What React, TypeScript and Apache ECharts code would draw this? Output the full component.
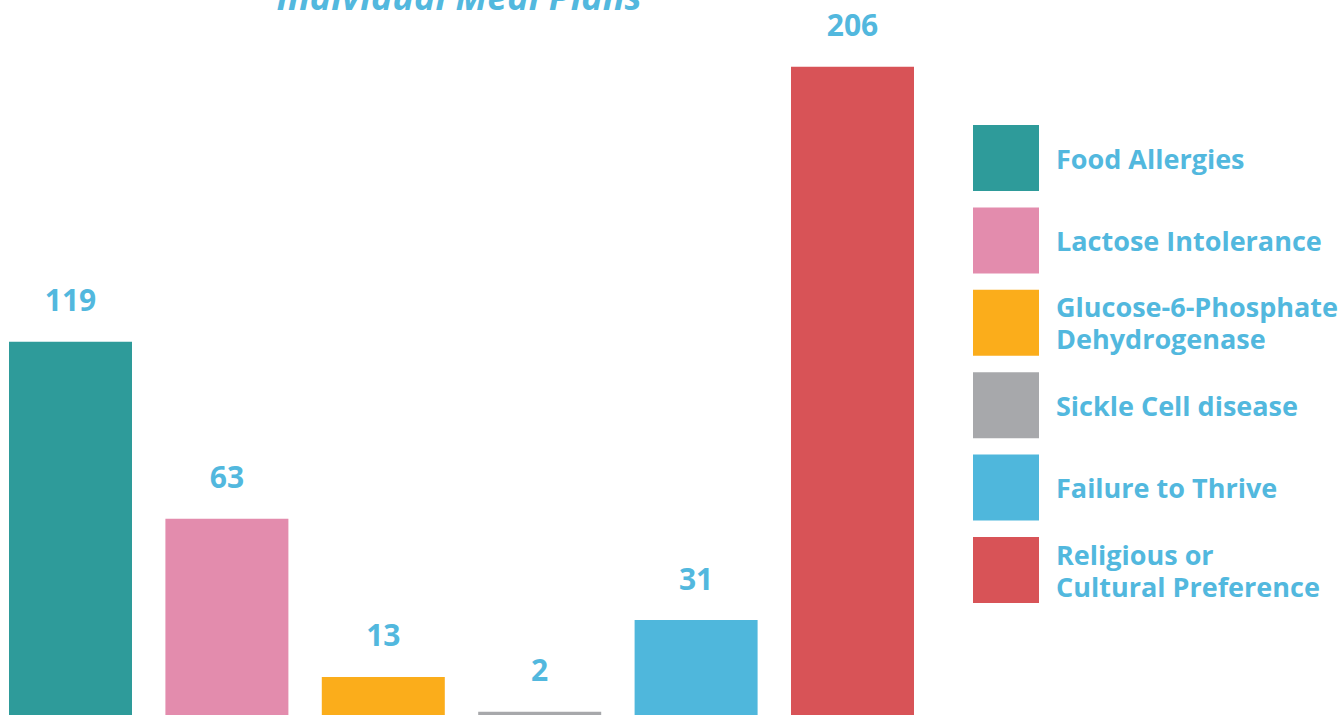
import React, { useEffect, useRef } from "react";
import * as echarts from "echarts";

const categories = [
  "Food Allergies",
  "Lactose Intolerance",
  "Glucose-6-Phosphate\nDehydrogenase",
  "Sickle Cell disease",
  "Failure to Thrive",
  "Religious or\nCultural Preference",
];
const values = [119, 63, 13, 2, 31, 206];
const colors = ["#2E9B9A", "#E38CAD", "#FBAD1B", "#A7A8AB", "#4FB7DC", "#D85357"];
const title = "Individual Meal Plans";

const TEXT_COLOR = "#52B8DE";
const FONT = "'Open Sans', 'Noto Sans', sans-serif";
const SHIFT = 8;

export default function App() {
  const ref = useRef<HTMLDivElement>(null);
  useEffect(() => {
    if (!ref.current) return;
    const chart = echarts.init(ref.current, undefined, { renderer: "svg" });
    const series = categories.map((name, i) => ({
      name,
      type: "bar",
      stack: "all",
      barWidth: 123,
      itemStyle: { color: colors[i] },
      data: values.map((v, j) => (j === i ? v : null)),
      label: {
        show: true,
        position: "top",
        distance: 27,
        color: TEXT_COLOR,
        fontFamily: FONT,
        fontWeight: "bold",
        fontSize: 30,
      },
    }));
    chart.setOption({
      animation: false,
      grid: { left: SHIFT - 7.7, width: 938.4, top: 22.6, bottom: 2, containLabel: false },
      xAxis: {
        type: "category",
        data: categories,
        show: false,
      },
      yAxis: { type: "value", min: 0, max: 220, show: false },
      legend: {
        orient: "vertical",
        left: SHIFT + 973,
        top: 125,
        padding: 0,
        itemWidth: 66,
        itemHeight: 66,
        itemGap: 16.4,
        icon: "rect",
        selectedMode: false,
        data: categories,
        textStyle: {
          color: TEXT_COLOR,
          fontFamily: FONT,
          fontWeight: "bold",
          fontSize: 27,
          lineHeight: 32,
          padding: [0, 0, 2, 12],
        },
      },
      graphic: [
        {
          type: "text",
          x: SHIFT + 459,
          y: -4,
          style: {
            text: title,
            x: 0,
            y: 0,
            align: "center",
            verticalAlign: "middle",
            fill: TEXT_COLOR,
            font: `italic bold 36px ${FONT}`,
          },
        },
      ],
      series,
    });
    return () => chart.dispose();
  }, []);
  return (
    <div
      ref={ref}
      style={{ position: "absolute", left: -SHIFT, top: 0, width: 1342 + SHIFT, height: 720 }}
    />
  );
}
